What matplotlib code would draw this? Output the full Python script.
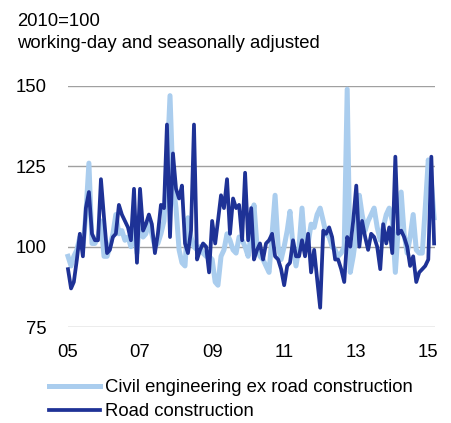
import matplotlib
matplotlib.use("Agg")
import matplotlib.pyplot as plt
import matplotlib.dates as mdates
import pandas as pd

plt.rcParams["font.family"] = ["Liberation Sans", "DejaVu Sans"]

LIGHT = "#aacdee"
DARK = "#1e3296"
FS = 13.3

months = pd.date_range("2005-01-01", periods=123, freq="MS")

civil_ex_road = [
    97, 94, 97, 99, 103, 100, 110, 126, 101, 101, 103, 108,
    97, 97, 100, 104, 110, 104, 105, 102, 103, 100, 107, 98,
    110, 103, 104, 108, 104, 100, 101, 104, 108, 125, 147, 120,
    112, 99, 95, 94, 109, 103, 100, 99, 100, 98, 97, 97,
    96, 89, 88, 97, 99, 104, 102, 99, 98, 103, 102, 100,
    97, 104, 113, 100, 97, 96, 94, 92, 104, 116, 100, 96,
    100, 105, 111, 100, 94, 100, 112, 99, 101, 107, 106, 110,
    112, 108, 104, 103, 100, 99, 97, 98, 100, 149, 92, 97,
    104, 116, 110, 105, 108, 110, 112, 106, 102, 106, 110, 112,
    108, 92, 105, 117, 104, 98, 103, 110, 99, 98, 98, 112,
    127, 120, 109,
]

road = [
    93, 87, 89, 96, 104, 97, 112, 117, 104, 102, 102, 121,
    109, 98, 99, 103, 104, 113, 110, 108, 106, 102, 118, 95,
    118, 105, 107, 110, 107, 98, 104, 113, 112, 138, 103, 129,
    118, 115, 119, 101, 98, 105, 138, 96, 99, 101, 100, 92,
    108, 101, 108, 116, 112, 121, 104, 115, 112, 113, 102, 123,
    102, 112, 96, 99, 101, 96, 101, 102, 104, 97, 96, 93,
    88, 94, 95, 102, 97, 97, 102, 97, 104, 92, 99, 90,
    81, 105, 104, 106, 103, 96, 96, 93, 89, 103, 100, 108,
    119, 100, 108, 103, 99, 104, 103, 100, 93, 107, 101, 106,
    98, 128, 104, 105, 103, 100, 94, 97, 89, 92, 93, 94,
    96, 128, 101,
]

labels = ["Civil engineering ex road construction", "Road construction"]
y_ticks = [75, 100, 125, 150]
x_tick_years = [2005, 2007, 2009, 2011, 2013, 2015]

fig = plt.figure(figsize=(4.51, 4.23), dpi=100)
ax = fig.add_axes([68 / 451, 1 - 327 / 423, (435 - 68) / 451, (327 - 86) / 423])

ax.plot(months, civil_ex_road, color=LIGHT, lw=3.6, label=labels[0],
        solid_joinstyle="round", clip_on=False, zorder=2)
ax.plot(months, road, color=DARK, lw=2.7, label=labels[1],
        solid_joinstyle="round", clip_on=False, zorder=3)

ax.set_ylim(75, 150)
ax.set_yticks(y_ticks)
ax.set_xlim(pd.Timestamp("2005-01-01"), pd.Timestamp("2015-03-10"))
ax.set_xticks([pd.Timestamp(f"{y}-01-01") for y in x_tick_years])
ax.xaxis.set_major_formatter(mdates.DateFormatter("%y"))
ax.grid(axis="y", color="#a0a0a0", lw=1)
ax.set_axisbelow(True)
for s in ax.spines.values():
    s.set_visible(False)
ax.tick_params(length=0, labelsize=FS, colors="black")
ax.tick_params(axis="x", pad=12)
ax.tick_params(axis="y", pad=15.5)

fig.text(17 / 451, 1 - 22 / 423, "2010=100", fontsize=FS, va="center")
fig.text(17 / 451, 1 - 44 / 423, "working-day and seasonally adjusted",
         fontsize=FS, va="center")

fig.legend(loc="upper left", bbox_to_anchor=(49 / 451, 1 - 379 / 423),
           frameon=False, fontsize=FS, handlelength=2.75, handletextpad=0.3,
           borderpad=0, borderaxespad=0, labelspacing=0.38)

fig.savefig("out.png", dpi=100)
